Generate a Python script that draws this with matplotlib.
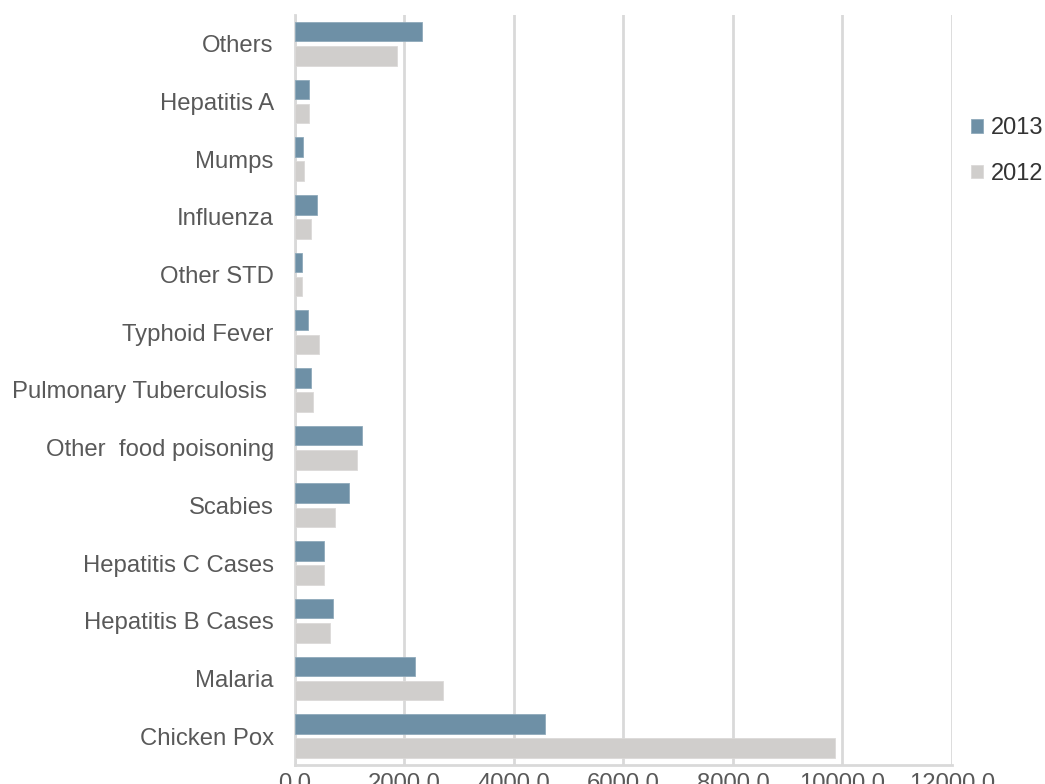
import matplotlib.pyplot as plt
import numpy as np

plt.rcParams['font.family'] = ['Liberation Sans', 'DejaVu Sans']

# categories listed bottom to top
diseases = ["Chicken Pox", "Malaria", "Hepatitis B Cases", "Hepatitis C Cases", "Scabies",
            "Other  food poisoning", "Pulmonary Tuberculosis ", "Typhoid Fever", "Other STD",
            "Influenza", "Mumps", "Hepatitis A", "Others"]
cases_2013 = [4567, 2190, 696, 532, 998, 1235, 300, 252, 137, 415, 160, 270, 2328]
cases_2012 = [9870, 2705, 652, 532, 743, 1144, 343, 440, 137, 300, 179, 270, 1862]
xticks = [0, 2000, 4000, 6000, 8000, 10000, 12000]

c13 = '#6E90A6'
c12 = '#D0CECC'
txt = '#595959'
grid = '#D9D9D9'

fig = plt.figure(figsize=(10.45, 7.84), dpi=100)
ax = fig.add_axes([0.282, 0.0242, 0.911 - 0.282, 0.981 - 0.0242])

y = np.arange(len(diseases))
h = 0.34
ax.barh(y + 0.21, cases_2013, height=h, color=c13, edgecolor='#8FAABB', linewidth=0.6, label='2013', zorder=3)
ax.barh(y - 0.21, cases_2012, height=h, color=c12, edgecolor='#DCDAD8', linewidth=0.6, label='2012', zorder=3)

ax.set_ylim(-0.5, len(diseases) - 0.5)
ax.set_xlim(0, 12000)
ax.set_xticks(xticks)
ax.set_xticklabels([f"{v:.1f}" for v in xticks])
ax.set_yticks(y)
ax.set_yticklabels(diseases)

ax.xaxis.grid(True, color=grid, linewidth=2, zorder=0)
for s in ['top', 'right']:
    ax.spines[s].set_visible(False)
ax.spines['left'].set_color(grid)
ax.spines['left'].set_linewidth(2)
ax.spines['bottom'].set_color(grid)
ax.spines['bottom'].set_linewidth(2)
ax.tick_params(axis='both', length=0, labelsize=17.2, labelcolor=txt)
ax.tick_params(axis='y', pad=15)
ax.tick_params(axis='x', pad=6)

ax.legend(loc='upper left', bbox_to_anchor=(0.997, 0.892), frameon=False, fontsize=17,
          handlelength=0.5, handleheight=0.5, handletextpad=0.35, labelspacing=1.0, labelcolor='#333333')

fig.savefig('out.png', dpi=100)
